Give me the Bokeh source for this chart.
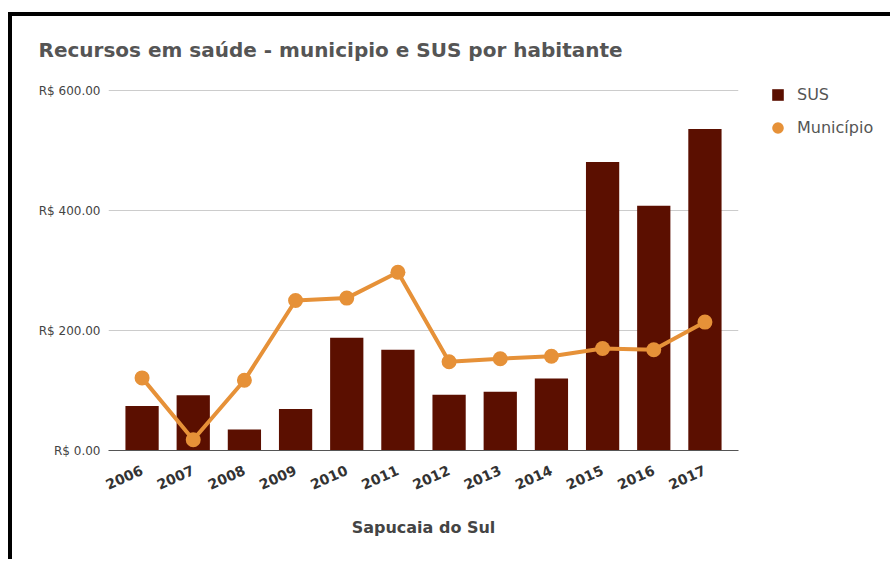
import math
from bokeh.plotting import figure
from bokeh.layouts import row
from bokeh.models import (FactorRange, ColumnDataSource, Legend, LegendItem,
                          FixedTicker, Title)
from bokeh.embed import file_html
from bokeh.resources import INLINE

# ---- data ----
years = ["2006", "2007", "2008", "2009", "2010", "2011",
         "2012", "2013", "2014", "2015", "2016", "2017"]
sus = [74, 92, 35, 69, 188, 168, 93, 98, 120, 481, 408, 536]
municipio = [121, 18, 117, 250, 254, 297, 148, 153, 157, 170, 168, 214]
y_ticks = [0, 200, 400, 600]
y_tick_labels = ["R$ 0.00", "R$ 200.00", "R$ 400.00", "R$ 600.00"]
title_text = "Recursos em saúde - municipio e SUS por habitante"
x_title = "Sapucaia do Sul"
series_names = ["SUS", "Município"]

BAR = "#5b0f00"
ORANGE = "#e69138"
FONT = "DejaVu Sans"
H = 543
TOP = 64                      # top border (frame starts a little above the 600 line)
Y_END = 600 + 10 / 0.6        # 10 px of head-room above the top gridline

src = ColumnDataSource(dict(x=years, sus=sus, mun=municipio))

p = figure(width=744, height=H, output_backend="svg", toolbar_location=None,
           x_range=FactorRange(factors=years, range_padding=0.026),
           y_range=(0, Y_END), title=None,
           min_border_left=96, min_border_right=18,
           min_border_top=TOP, min_border_bottom=H - 434)

p.background_fill_color = "white"
p.border_fill_color = "white"
p.outline_line_color = None

bars = p.vbar(x="x", top="sus", width=0.65, source=src, fill_color=BAR,
              line_color=None)
line = p.line(x="x", y="mun", source=src, line_color=ORANGE, line_width=4)
dots = p.scatter(x="x", y="mun", source=src, size=15, fill_color=ORANGE,
                 line_color=None)

# title
t = Title(text=title_text, align="left", offset=-70, vertical_align="bottom",
          text_font=FONT, text_font_size="20px", text_font_style="bold",
          text_color="#555555", standoff=38)
p.add_layout(t, "above")

# y axis
p.yaxis.ticker = FixedTicker(ticks=y_ticks)
p.yaxis.major_label_overrides = {v: s for v, s in zip(y_ticks, y_tick_labels)}
p.yaxis.axis_line_color = None
p.yaxis.major_tick_line_color = None
p.yaxis.minor_tick_line_color = None
p.yaxis.major_tick_out = 0
p.yaxis.major_label_standoff = 8
p.yaxis.major_label_text_font = FONT
p.yaxis.major_label_text_font_size = "12px"
p.yaxis.major_label_text_color = "#444444"

# x axis
p.xaxis.axis_line_color = "#555555"
p.xaxis.axis_line_width = 1
p.xaxis.major_tick_line_color = None
p.xaxis.major_tick_out = 0
p.xaxis.major_label_orientation = 0.42
p.xaxis.major_label_standoff = 19
p.xaxis.major_label_text_font = FONT
p.xaxis.major_label_text_font_size = "14px"
p.xaxis.major_label_text_font_style = "bold"
p.xaxis.major_label_text_color = "#333333"
p.xaxis.axis_label = x_title
p.xaxis.axis_label_text_font = FONT
p.xaxis.axis_label_text_font_size = "16px"
p.xaxis.axis_label_text_font_style = "bold"
p.xaxis.axis_label_text_color = "#444444"
p.xaxis.axis_label_standoff = 20

# grid
p.xgrid.grid_line_color = None
p.ygrid.ticker = FixedTicker(ticks=y_ticks)
p.ygrid.grid_line_color = "#cccccc"
p.ygrid.grid_line_width = 1

# ---- legend panel (separate small figure to the right) ----
lp = figure(width=134, height=H, output_backend="svg", toolbar_location=None,
            x_range=FactorRange(factors=years), y_range=(0, Y_END), title=None,
            min_border_left=7, min_border_right=0,
            min_border_top=TOP, min_border_bottom=H - 434)
lp.axis.visible = False
lp.grid.grid_line_color = None
lp.outline_line_color = None
lp.background_fill_color = "white"
lp.border_fill_color = "white"
key_sus = lp.scatter(x="x", y="sus", source=src, marker="square", size=15,
                     fill_color=BAR, line_color=None, visible=False)
key_mun = lp.scatter(x="x", y="mun", source=src, marker="circle", size=15,
                     fill_color=ORANGE, line_color=None, visible=False)
legend = Legend(items=[LegendItem(label=series_names[0], renderers=[key_sus]),
                       LegendItem(label=series_names[1], renderers=[key_mun])],
                location="top_left", orientation="vertical",
                glyph_width=29, glyph_height=29, label_height=17,
                spacing=4, padding=0, margin=0,
                label_text_font=FONT, label_text_font_size="16px",
                label_text_color="#555555", label_standoff=5,
                border_line_color=None, background_fill_alpha=0)
lp.add_layout(legend, "center")

layout = row(p, lp, styles={"border-top": "4px solid black",
                            "border-left": "4px solid black",
                            "margin-top": "12px", "margin-left": "8px"})

open("out.html", "w").write(file_html(layout, INLINE))
